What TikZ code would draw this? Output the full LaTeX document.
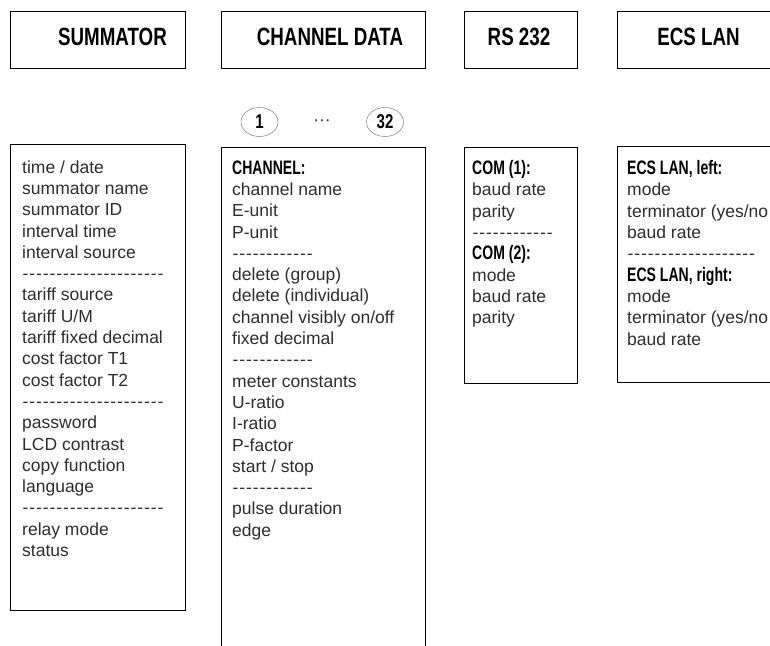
\documentclass[tikz,border=0pt]{standalone}
\usepackage{fontspec}
\setmainfont{Liberation Sans}
\newfontfamily\condfont[FakeStretch=0.75]{Liberation Sans}
\newfontfamily\condheadfont[FakeStretch=0.72]{Liberation Sans}
\definecolor{textgray}{RGB}{45,45,45}
\usetikzlibrary{shapes.geometric, positioning}
\newcommand{\dashrow}[1]{\foreach \d in {1,...,#1}{\makebox[6.75pt]{-}}}
\newcommand{\listhead}[1]{{\condheadfont\bfseries\fontsize{19.5}{21.3}\selectfont\color{black}#1}}

\begin{document}
\begin{tikzpicture}[x=1pt, y=-1pt,
  headbox/.style={draw, line width=1pt, minimum height=57, anchor=north west, inner sep=0},
  headtext/.style={font=\condfont\bfseries\fontsize{25}{30}\selectfont},
  listbox/.style={draw, line width=1pt, anchor=north west, inner sep=0},
  listtext/.style={anchor=north west, inner sep=0, align=left, text=textgray,
    font=\fontsize{17.5}{21.3}\selectfont, execute at begin node=\strut},
  chanmark/.style={draw=gray, line width=0.5pt, ellipse, inner sep=0, minimum width=37,
    minimum height=29, font=\condfont\bfseries\fontsize{20}{24}\selectfont}]
  \useasboundingbox (0,0) rectangle (770,645);

  % Menu titles
  \node[headbox, minimum width=175] (sumhead) at (10,11) {};
  \node[headbox, minimum width=204] (chanhead) at (221,11) {};
  \node[headbox, minimum width=113] (rshead) at (464,11) {};
  \node[headbox, minimum width=164] (ecshead) at (617,11) {};
  \node[headtext] (sumtitle) at (112.5,36.5) {SUMMATOR};
  \node[headtext] (chantitle) at (330,36.5) {CHANNEL DATA};
  \node[headtext] (rstitle) at (519,36.5) {RS 232};
  \node[headtext] (ecstitle) at (698.5,36.5) {ECS LAN};

  % Channel numbers
  \node[chanmark] (chfirst) at (259.5,122) {1};
  \node[anchor=base, text=textgray, font=\fontsize{17.5}{21.3}\selectfont] (chdots) at (322,125) {···};
  \node[chanmark] (chlast) at (385,122) {32};

  % Summator list
  \node[listbox, minimum width=175, minimum height=466] (sumbox) at (10,144) {};
  \node[listtext] (sumlist) at (22,160.3) {time / date\\summator name\\summator ID\\interval time\\interval source\\
    \dashrow{21}\\tariff source\\tariff U/M\\tariff fixed decimal\\cost factor T1\\cost factor T2\\
    \dashrow{21}\\password\\LCD contrast\\copy function\\language\\
    \dashrow{21}\\relay mode\\status};

  % Channel list
  \node[listbox, minimum width=204, minimum height=560] (chanbox) at (221,147) {};
  \node[listtext] (chanlist) at (232,160.3) {\listhead{CHANNEL:}\\channel name\\E-unit\\P-unit\\
    \dashrow{12}\\delete (group)\\delete (individual)\\channel visibly on/off\\fixed decimal\\
    \dashrow{12}\\meter constants\\U-ratio\\I-ratio\\P-factor\\start / stop\\
    \dashrow{12}\\pulse duration\\edge};

  % RS 232 list
  \node[listbox, minimum width=113, minimum height=236] (rsbox) at (464,147) {};
  \node[listtext] (rslist) at (472,160.3) {\listhead{COM (1):}\\baud rate\\parity\\
    \dashrow{12}\\\listhead{COM (2):}\\mode\\baud rate\\parity};

  % ECS LAN list
  \node[listbox, minimum width=164, minimum height=236] (ecsbox) at (617,146) {};
  \node[listtext] (ecslist) at (627,160.3) {\listhead{ECS LAN, left:}\\mode\\terminator (yes/no\\baud rate\\
    \dashrow{19}\\\listhead{ECS LAN, right:}\\mode\\terminator (yes/no\\baud rate};
\end{tikzpicture}
\end{document}
